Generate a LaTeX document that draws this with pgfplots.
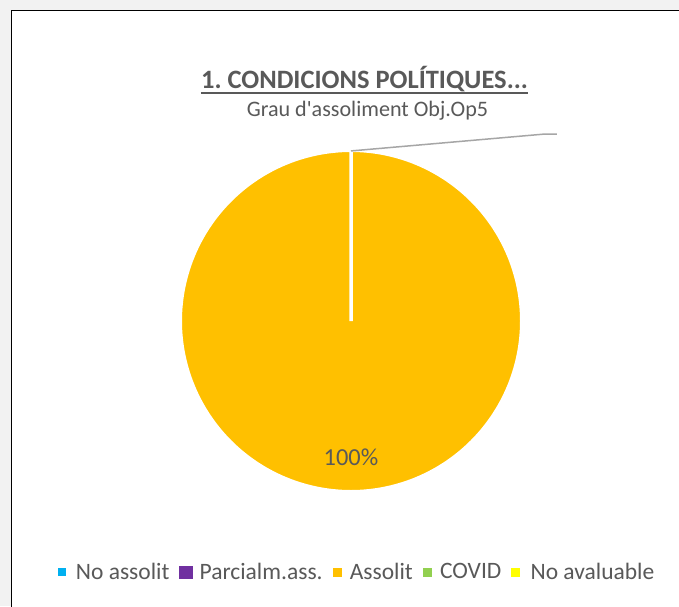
\documentclass[border=0pt]{standalone}
\usepackage{fontspec}
\setmainfont{Carlito}
\usepackage{pgfplots}
\usepackage{pgfplotstable}
\pgfplotsset{compat=1.18}
\frenchspacing
\definecolor{bggray}{HTML}{F2F2F2}
\definecolor{txtgray}{HTML}{595959}
\definecolor{leadgray}{HTML}{A6A6A6}
\definecolor{cnoass}{HTML}{00B0F0}
\definecolor{cparc}{HTML}{7030A0}
\definecolor{cass}{HTML}{FFC000}
\definecolor{ccovid}{HTML}{92D050}
\definecolor{cnoav}{HTML}{FFFF00}

\pgfplotstableread{
label value
{No assolit} 0
{Parcialm.ass.} 0
Assolit 100
COVID 0
{No avaluable} 0
}\piedata

\begin{document}
\begin{tikzpicture}[x=1pt,y=1pt]
\clip (0,0) rectangle (679,606);
\fill[bggray] (0,0) rectangle (679,606);
\filldraw[fill=white, draw=black, line width=1.4pt] (11.5,-20) rectangle (700,595.5);

% title and subtitle
\node[anchor=base, inner sep=0pt, text=txtgray, font=\fontsize{26.5}{31}\selectfont\bfseries] (T) at (364.5,517) {1. CONDICIONS POLÍTIQUES...};
\draw[txtgray, line width=1.5pt] (T.west |- 0,513) -- (T.east |- 0,513);
\node[anchor=base, inner sep=0pt, text=txtgray, font=\fontsize{22.1}{26}\selectfont] at (367.5,489) {Grau d\textquotesingle assoliment Obj.Op5};

% cumulative angles from the data
\pgfplotstablegetelem{0}{value}\of\piedata \pgfmathsetmacro{\va}{\pgfplotsretval}
\pgfplotstablegetelem{1}{value}\of\piedata \pgfmathsetmacro{\vb}{\pgfplotsretval}
\pgfplotstablegetelem{2}{value}\of\piedata \pgfmathsetmacro{\vc}{\pgfplotsretval}
\pgfmathsetmacro{\startC}{90-3.6*(\va+\vb)}
\pgfmathsetmacro{\endC}{\startC-3.6*\vc}

\begin{axis}[
  at={(351pt,285pt)}, anchor=center,
  scale only axis, width=341.5pt, height=341.5pt,
  xmin=-1, xmax=1, ymin=-1, ymax=1,
  hide axis, clip=false,
  legend columns=5,
  legend style={at={(0.5146,-0.235)}, anchor=center, draw=none, fill=none,
    font=\fontsize{23.5}{28}\selectfont, text=txtgray,
    nodes={inner sep=0pt},
    /tikz/every odd column/.append style={column sep=0pt},
    /tikz/every even column/.append style={column sep=10pt}},
  legend cell align=left,
]
\addplot[fill=cass, draw=white, line width=3.5pt, domain=\startC:\endC, samples=241, forget plot]
  ({cos(x)},{sin(x)}) -- (axis cs:0,0) -- cycle;
\addplot[leadgray, line width=1.5pt, forget plot] coordinates {(0,0.996) (1.136,1.095) (1.206,1.095)};
\node[text=txtgray, font=\fontsize{24.4}{29}\selectfont] at (axis cs:0,-0.80) {100\%};

\addlegendimage{legend image code/.code={\fill[cnoass] (0pt,-3.5pt) rectangle (7pt,3.5pt); \path[draw=none,fill=none] (0pt,0pt) rectangle (18pt,0.1pt);}}
\addlegendentry{No assolit}
\addlegendimage{legend image code/.code={\fill[cparc] (0pt,-6pt) rectangle (13pt,6pt); \path[draw=none,fill=none] (0pt,0pt) rectangle (20pt,0.1pt);}}
\addlegendentry{Parcialm.ass.}
\addlegendimage{legend image code/.code={\fill[cass] (0pt,-4pt) rectangle (8pt,4pt); \path[draw=none,fill=none] (0pt,0pt) rectangle (17pt,0.1pt);}}
\addlegendentry{Assolit}
\addlegendimage{legend image code/.code={\fill[ccovid] (0pt,-4pt) rectangle (8pt,4pt); \path[draw=none,fill=none] (0pt,0pt) rectangle (17pt,0.1pt);}}
\addlegendentry{COVID}
\addlegendimage{legend image code/.code={\fill[cnoav] (0pt,-4pt) rectangle (8pt,4pt); \path[draw=none,fill=none] (0pt,0pt) rectangle (19pt,0.1pt);}}
\addlegendentry{No avaluable}
\end{axis}
\end{tikzpicture}
\end{document}
